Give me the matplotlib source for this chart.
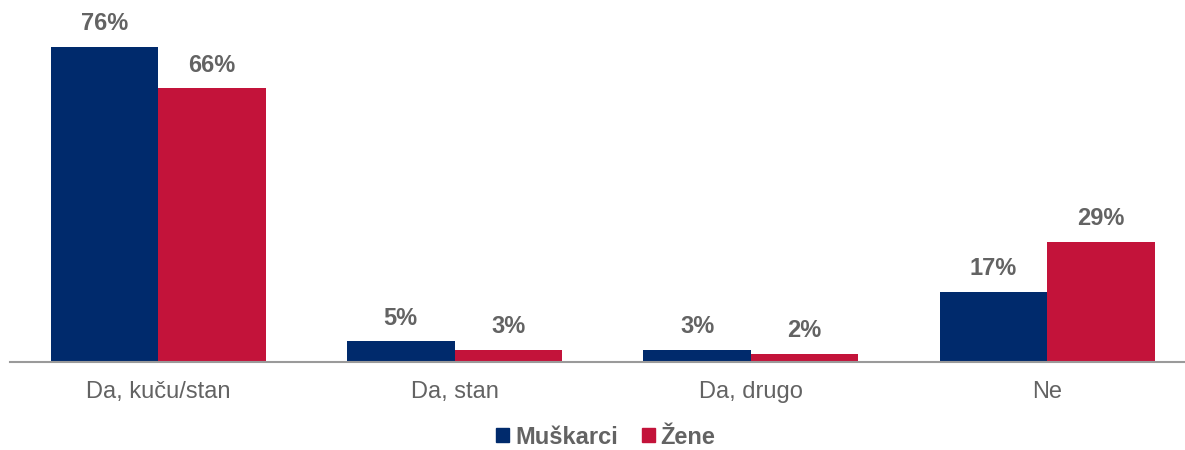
import matplotlib
matplotlib.use('Agg')
import matplotlib.pyplot as plt
from matplotlib.patches import Patch
import numpy as np

categories = ['Da, kuču/stan', 'Da, stan', 'Da, drugo', 'Ne']
muskarci = [76, 5, 3, 17]
zene = [66, 3, 2, 29]
series_names = ['Muškarci', 'Žene']
colors = ['#002A6C', '#C3133A']
text_gray = '#636363'

fig = plt.figure(figsize=(11.85, 4.5), dpi=100)
ax = fig.add_axes([10 / 1185, 88 / 450, 1 - 10 / 1185, 362 / 450])

x = np.arange(len(categories))
w = 0.363
b1 = ax.bar(x - w / 2, muskarci, w, color=colors[0])
b2 = ax.bar(x + w / 2, zene, w, color=colors[1])

for bars, vals in ((b1, muskarci), (b2, zene)):
    for rect, v in zip(bars, vals):
        ax.text(rect.get_x() + rect.get_width() / 2, v + 5.6, f'{v}%',
                ha='center', va='center', fontsize=17, fontweight='bold',
                color=text_gray, family='Liberation Sans')

ax.set_xlim(-0.5, 3.465)
ax.set_ylim(0, 87.3)
ax.set_yticks([])
ax.set_xticks(x)
ax.set_xticklabels(categories, fontsize=17, color=text_gray, family='Liberation Sans')
ax.tick_params(axis='x', length=0, pad=14)
for s in ('top', 'right', 'left'):
    ax.spines[s].set_visible(False)
ax.spines['bottom'].set_color('#9A9A9A')
ax.spines['bottom'].set_linewidth(1.5)

handles = [Patch(color=c, label=n) for c, n in zip(colors, series_names)]
leg = fig.legend(handles=handles, loc='center', bbox_to_anchor=(606 / 1185, 13 / 450),
                 ncol=2, frameon=False, handlelength=0.55, handleheight=0.55,
                 handletextpad=0.25, columnspacing=1.0, borderpad=0.2,
                 prop={'family': 'Liberation Sans', 'weight': 'bold', 'size': 17})
for t in leg.get_texts():
    t.set_color(text_gray)

fig.savefig('out.png', dpi=100)
